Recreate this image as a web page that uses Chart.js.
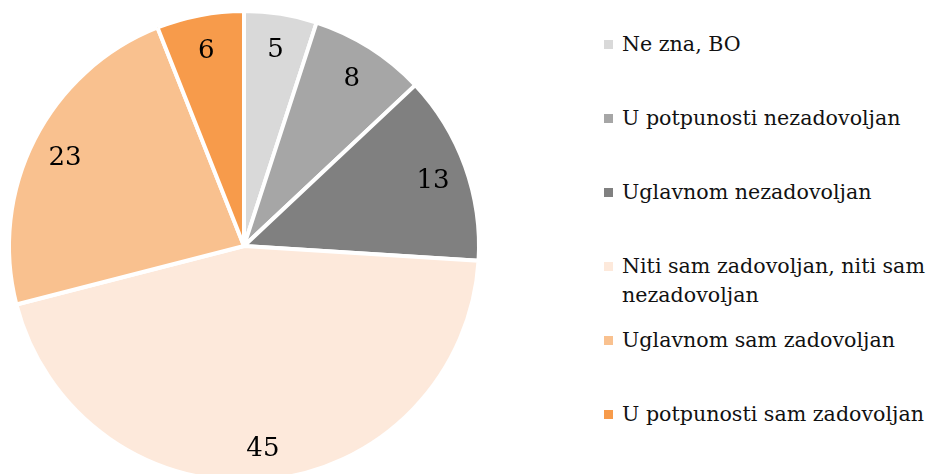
<!DOCTYPE html>
<html>
<head>
<meta charset="utf-8">
<script src="https://cdn.jsdelivr.net/npm/chart.js@4"></script>
<style>
  html, body { margin: 0; padding: 0; background: #fff; width: 928px; height: 474px; overflow: hidden; }
  #wrap { position: absolute; left: 0; top: 0; width: 490px; height: 490px; }
  #legend { position: absolute; left: 604px; top: 0; width: 324px; font-family: "DejaVu Serif", serif; font-size: 20.6px; color: #111; }
  .item { position: absolute; left: 0; display: flex; align-items: flex-start; line-height: 29px; white-space: nowrap; }
  .box { width: 9px; height: 9px; margin-top: 10px; margin-right: 9px; flex: none; }
</style>
</head>
<body>
<div id="wrap"><canvas id="c"></canvas></div>
<div id="legend"></div>
<script>
const categories = [
  "Ne zna, BO",
  "U potpunosti nezadovoljan",
  "Uglavnom nezadovoljan",
  "Niti sam zadovoljan, niti sam nezadovoljan",
  "Uglavnom sam zadovoljan",
  "U potpunosti sam zadovoljan"
];
const legendLines = [
  ["Ne zna, BO"],
  ["U potpunosti nezadovoljan"],
  ["Uglavnom nezadovoljan"],
  ["Niti sam zadovoljan, niti sam", "nezadovoljan"],
  ["Uglavnom sam zadovoljan"],
  ["U potpunosti sam zadovoljan"]
];
const values = [5, 8, 13, 45, 23, 6];
const colors = ["#d9d9d9", "#a6a6a6", "#808080", "#fde9db", "#f9c18f", "#f79b4b"];

const labelPlugin = {
  id: 'sliceLabels',
  afterDatasetsDraw(chart) {
    const ctx = chart.ctx;
    const meta = chart.getDatasetMeta(0);
    ctx.save();
    ctx.font = '26px "DejaVu Serif", serif';
    ctx.fillStyle = '#000';
    ctx.textAlign = 'center';
    ctx.textBaseline = 'middle';
    meta.data.forEach((arc, i) => {
      const p = arc.getProps(['x', 'y', 'startAngle', 'endAngle', 'outerRadius'], true);
      const a = (p.startAngle + p.endAngle) / 2;
      const r = p.outerRadius * 0.855;
      ctx.fillText(String(chart.data.datasets[0].data[i]), p.x + Math.cos(a) * r, p.y + Math.sin(a) * r + 3);
    });
    ctx.restore();
  }
};

new Chart(document.getElementById('c'), {
  type: 'pie',
  data: {
    labels: categories,
    datasets: [{
      data: values,
      backgroundColor: colors,
      borderColor: '#ffffff',
      borderWidth: 4
    }]
  },
  options: {
    responsive: true,
    maintainAspectRatio: false,
    animation: false,
    layout: { padding: { left: 7, top: 9, right: 9, bottom: 7 } },
    plugins: {
      legend: { display: false },
      tooltip: { enabled: false }
    }
  },
  plugins: [labelPlugin]
});

const legend = document.getElementById('legend');
legendLines.forEach((lines, i) => {
  const item = document.createElement('div');
  item.className = 'item';
  item.style.top = (30 + i * 74) + 'px';
  const box = document.createElement('div');
  box.className = 'box';
  box.style.background = colors[i];
  const txt = document.createElement('div');
  txt.innerHTML = lines.join('<br>');
  item.appendChild(box);
  item.appendChild(txt);
  legend.appendChild(item);
});
</script>
</body>
</html>
